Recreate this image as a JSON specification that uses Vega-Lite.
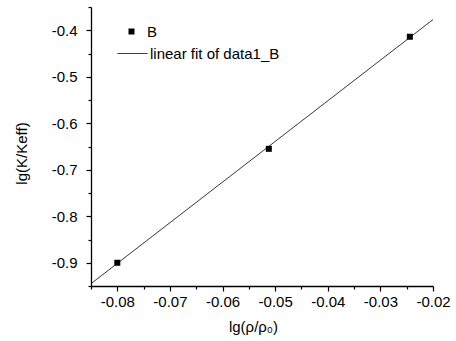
{
  "$schema": "https://vega.github.io/schema/vega-lite/v6.json",
  "width": 342,
  "height": 279,
  "autosize": "none",
  "padding": {"left": 91, "top": 7, "right": 23, "bottom": 55},
  "background": "white",
  "config": {
    "view": {"stroke": null},
    "font": "Liberation Sans",
    "locale": {"number": {"decimal": ".", "thousands": ",", "grouping": [3], "currency": ["$", ""], "minus": "-"}},
    "axis": {
      "domainColor": "black", "domainWidth": 1.3, "tickColor": "black", "tickWidth": 1.2,
      "labelColor": "black", "labelFontSize": 15, "labelFont": "Liberation Sans",
      "titleColor": "black", "titleFontSize": 15, "titleFontWeight": "normal", "titleFont": "Liberation Sans",
      "grid": false, "labelFlush": false, "labelOverlap": false
    },
    "legend": {"labelFontSize": 15, "labelColor": "black", "labelFont": "Liberation Sans", "padding": 0}
  },
  "datasets": {
    "pts": [
      {"x": -0.0800, "y": -0.900, "series": "B"},
      {"x": -0.0512, "y": -0.655, "series": "B"},
      {"x": -0.0244, "y": -0.414, "series": "B"}
    ],
    "fit": [
      {"x": -0.085, "y": -0.945, "series": "linear fit of data1_B"},
      {"x": -0.020, "y": -0.377, "series": "linear fit of data1_B"}
    ]
  },
  "layer": [
    {
      "data": {"name": "fit"},
      "mark": {"type": "line", "color": "black", "strokeWidth": 0.9},
      "encoding": {
        "x": {"field": "x", "type": "quantitative", "scale": {"domain": [-0.085, -0.02], "nice": false, "zero": false},
          "axis": {"orient": "bottom", "values": [-0.08, -0.07, -0.06, -0.05, -0.04, -0.03, -0.02], "format": ".2f", "tickSize": 5, "labelPadding": 3, "title": "lg(ρ/ρ₀)", "titlePadding": 10, "titleX": 162}},
        "y": {"field": "y", "type": "quantitative", "scale": {"domain": [-0.95, -0.35], "nice": false, "zero": false},
          "axis": {"orient": "left", "values": [-0.9, -0.8, -0.7, -0.6, -0.5, -0.4], "format": ".1f", "tickSize": 5, "labelPadding": 9, "title": "lg(K/Keff)", "titlePadding": 22, "titleY": 146}},
        "strokeDash": {"field": "series", "type": "nominal", "scale": {"range": [[1, 0]]},
          "legend": {"title": null, "orient": "none", "legendX": 26, "legendY": 31, "symbolSize": 900, "symbolType": "stroke", "symbolStrokeColor": "black", "symbolStrokeWidth": 1, "labelOffset": 2}}
      }
    },
    {
      "data": {"name": "pts"},
      "mark": {"type": "point", "shape": "square", "filled": true, "color": "black", "size": 36, "opacity": 1},
      "encoding": {
        "x": {"field": "x", "type": "quantitative", "axis": null},
        "y": {"field": "y", "type": "quantitative", "axis": null},
        "shape": {"field": "series", "type": "nominal", "scale": {"range": ["square"]},
          "legend": {"title": null, "orient": "none", "legendX": 33, "legendY": 17, "symbolSize": 36, "symbolFillColor": "black", "symbolStrokeColor": "black", "symbolOpacity": 1, "labelOffset": 8}}
      }
    },
    {
      "data": {"name": "pts"},
      "mark": {"type": "point", "opacity": 0},
      "encoding": {
        "x": {"field": "x", "type": "quantitative",
          "axis": {"orient": "bottom", "values": [-0.085, -0.075, -0.065, -0.055, -0.045, -0.035, -0.025], "labels": false, "domain": false, "tickSize": 3, "title": null}},
        "y": {"field": "y", "type": "quantitative",
          "axis": {"orient": "left", "values": [-0.95, -0.85, -0.75, -0.65, -0.55, -0.45, -0.35], "labels": false, "domain": false, "tickSize": 3, "title": null}}
      }
    }
  ],
  "resolve": {"axis": {"x": "independent", "y": "independent"}}
}
